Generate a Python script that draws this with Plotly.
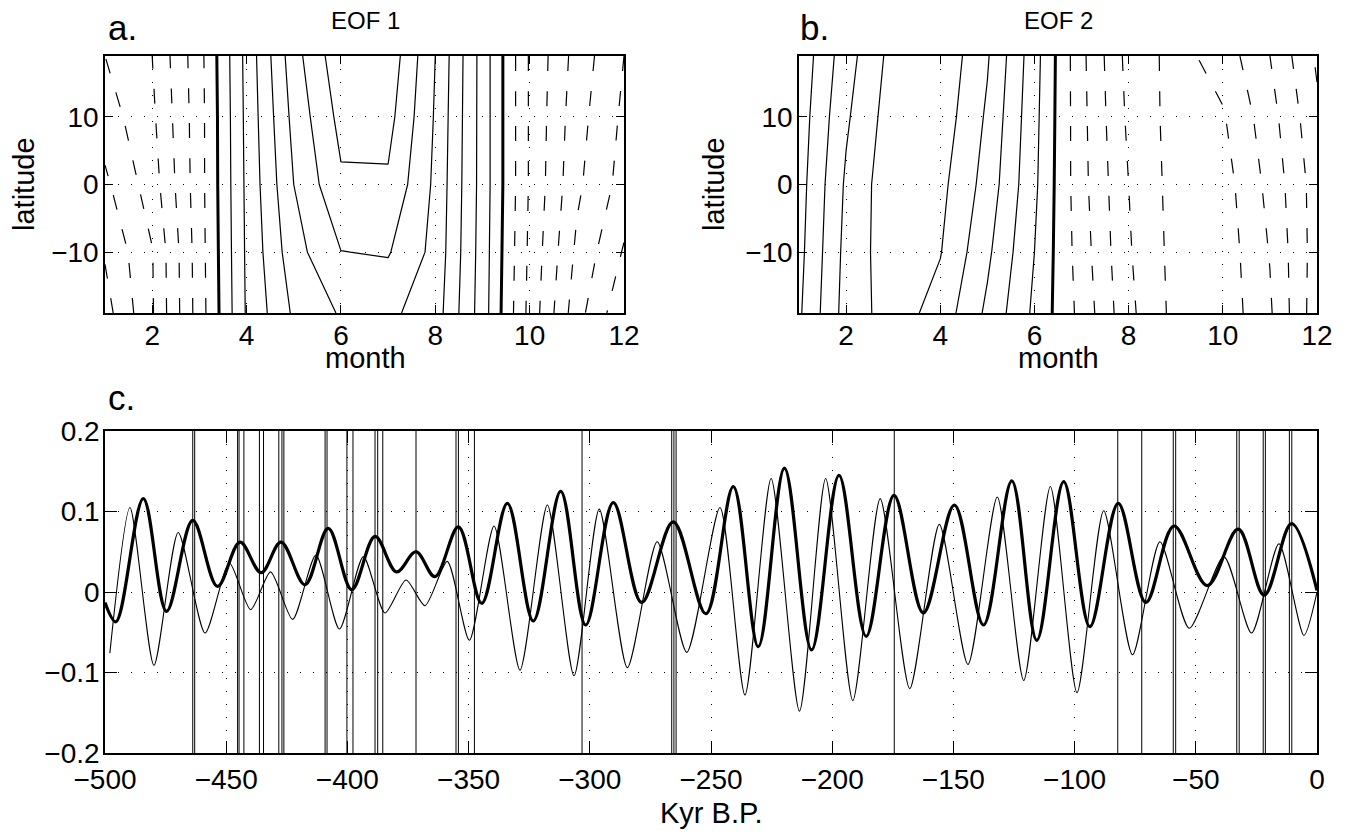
import plotly.graph_objects as go

# ---------------- data ----------------
months = list(range(1, 13))
lats = [-19, -10, 0, 10, 19]

# EOF 1 field (rows = lats, cols = months)
eof1 = [
    [-7.4, -5.1, -1.5, 2.1, 4.15, 5.1, 5.2, 4.5, 1.5, -2.3, -5.6, -7.8],
    [-6.9, -5.05, -1.45, 2.15, 4.6, 5.98, 6.08, 4.7, 1.55, -2.2, -5.2, -7.1],
    [-6.2, -4.5, -1.4, 2.2, 5.0, 6.85, 6.85, 4.8, 1.6, -2.1, -4.8, -6.4],
    [-5.5, -4.2, -1.4, 2.25, 5.3, 7.3, 7.35, 4.9, 1.6, -2.1, -4.6, -6.2],
    [-5.0, -4.0, -1.35, 2.3, 5.6, 7.7, 7.7, 5.0, 1.6, -2.1, -4.4, -6.0],
]

# EOF 2 field
eof2 = [
    [1.85, 4.4, 5.5, 4.6, 2.8, 0.8, -1.32, -3.75, -5.31, -5.66, -4.13, -1.4],
    [1.7, 4.3, 5.65, 5.05, 3.2, 1.0, -1.5, -3.9, -5.35, -5.6, -3.95, -1.5],
    [1.58, 4.15, 5.72, 5.28, 3.6, 1.2, -1.66, -4.0, -5.4, -5.45, -3.7, -1.5],
    [1.45, 3.85, 5.55, 5.6, 3.85, 1.3, -1.7, -4.2, -5.4, -5.1, -3.4, -1.2],
    [1.3, 3.57, 5.36, 5.8, 4.1, 1.4, -1.75, -4.35, -5.35, -4.57, -3.0, -0.85],
]

# Panel c: principal component time series (kyr, value)
pc1_t = [-500, -495.5, -484.2, -474.6, -463.8, -453.6, -444.3, -435.6, -427.4, -417.5,
         -407.9, -398.2, -388.6, -379.7, -371.7, -363.9, -354.2, -344.6, -334.0, -323.3,
         -312.0, -301.7, -290.3, -278.6, -265.6, -252.1, -240.8, -230.5, -219.7, -208.5,
         -197.2, -186.0, -174.5, -162.4, -149.6, -137.6, -125.9, -115.6, -104.5, -93.7,
         -82.0, -70.6, -59.0, -45.3, -32.5, -21.8, -10.5, 0]
pc1_v = [-0.013, -0.037, 0.116, -0.024, 0.089, 0.007, 0.062, 0.024, 0.062, 0.009,
         0.079, 0.003, 0.069, 0.025, 0.050, 0.019, 0.081, -0.014, 0.110, -0.036,
         0.125, -0.041, 0.111, -0.013, 0.087, -0.027, 0.131, -0.068, 0.154, -0.072,
         0.145, -0.055, 0.120, -0.026, 0.108, -0.041, 0.138, -0.060, 0.137, -0.043,
         0.110, -0.013, 0.082, 0.008, 0.078, -0.004, 0.085, 0.002]

pc2_t = [-498, -489.7, -479.8, -469.8, -458.7, -448.7, -439.9, -431.7, -422.6, -413.0,
         -403.3, -393.4, -384.5, -375.8, -368.0, -358.8, -349.7, -339.5, -328.8, -317.5,
         -306.5, -296.1, -284.5, -272.2, -260.0, -246.3, -236.0, -225.2, -213.5, -202.7,
         -191.5, -180.2, -168.0, -155.8, -144.0, -131.9, -121.0, -110.0, -99.0, -88.0,
         -76.1, -64.8, -52.7, -38.4, -27.0, -15.7, -5.4, 0]
pc2_v = [-0.076, 0.105, -0.091, 0.074, -0.051, 0.036, -0.022, 0.025, -0.034, 0.046,
         -0.046, 0.044, -0.026, 0.015, -0.017, 0.038, -0.060, 0.082, -0.097, 0.108,
         -0.104, 0.103, -0.094, 0.0625, -0.075, 0.105, -0.128, 0.141, -0.148, 0.141,
         -0.135, 0.116, -0.120, 0.084, -0.090, 0.118, -0.110, 0.131, -0.125, 0.101,
         -0.078, 0.0625, -0.045, 0.044, -0.051, 0.060, -0.054, 0.0]

# vertical event markers (kyr)
events = [-463.8, -463.0, -445.3, -444.7, -442.7, -436.3, -434.6, -428.3, -427.0, -426.2,
          -409.2, -408.4, -400.2, -397.7, -388.6, -387.5, -385.4, -371.7, -355.2, -354.2,
          -347.6, -303.2, -266.2, -265.3, -264.4, -174.4, -82.2, -72.3, -59.3, -58.3,
          -33.1, -32.1, -22.2, -21.3, -11.4, -10.4]

month_ticks = [2, 4, 6, 8, 10, 12]
lat_ticks = [-10, 0, 10]
kyr_ticks = list(range(-500, 1, 50))
pc_ticks = [-0.2, -0.1, 0, 0.1, 0.2]
pc_ticktext = ["\u22120.2", "\u22120.1", "0", "0.1", "0.2"]

# ---------------- figure ----------------
W, H = 1351, 837
OX, OY = 8, 8   # page body margin: compensate so the plot lands at window pixels
def px(x):
    return (x - OX) / W
def py(y):
    return 1 - (y - OY) / H

FONT = "Liberation Sans, Arial, Helvetica, sans-serif"
BLACK = [[0, "black"], [1, "black"]]

fig = go.Figure()

def add_eof(z, xa, ya):
    common = dict(x=months, y=lats, z=z, xaxis=xa, yaxis=ya, showscale=False,
                  colorscale=BLACK, hoverinfo="skip")
    fig.add_trace(go.Contour(**common,
                             contours=dict(coloring="lines", start=1, end=12, size=1),
                             line=dict(width=1.2, smoothing=0)))
    fig.add_trace(go.Contour(**common,
                             contours=dict(coloring="lines", start=-12, end=-1, size=1),
                             line=dict(width=1.2, smoothing=0, dash="15px,20px")))
    fig.add_trace(go.Contour(**common,
                             contours=dict(coloring="lines", start=0, end=0.5, size=1),
                             line=dict(width=3, smoothing=0)))

add_eof(eof1, "x", "y")
add_eof(eof2, "x2", "y2")

# event lines
ev_x, ev_y = [], []
for e in events:
    ev_x += [e, e, None]
    ev_y += [-0.2, 0.2, None]
fig.add_trace(go.Scatter(x=ev_x, y=ev_y, mode="lines", xaxis="x3", yaxis="y3",
                         line=dict(color="black", width=1), hoverinfo="skip",
                         showlegend=False))
fig.add_trace(go.Scatter(x=pc2_t, y=pc2_v, mode="lines", xaxis="x3", yaxis="y3",
                         line=dict(color="black", width=1.1, shape="spline", smoothing=0.7),
                         showlegend=False))
fig.add_trace(go.Scatter(x=pc1_t, y=pc1_v, mode="lines", xaxis="x3", yaxis="y3",
                         line=dict(color="black", width=3.2, shape="spline", smoothing=1.0),
                         showlegend=False))

TICKF = dict(family=FONT, size=28, color="black")
GRID = dict(showgrid=True, gridcolor="black", gridwidth=1, griddash="1px,12px",
            zeroline=False, showline=True, linecolor="black", linewidth=1.5,
            mirror="ticks", ticks="inside", tickcolor="black", tickwidth=1.2,
            tickfont=TICKF, automargin=False)

top_dom = [py(313), py(56)]
fig.update_layout(
    width=W, height=H, margin=dict(l=0, r=0, t=0, b=0, autoexpand=False),
    paper_bgcolor="white", plot_bgcolor="white", showlegend=False,
    xaxis=dict(domain=[px(105), px(624)], range=[1, 12], tickvals=month_ticks,
               ticklen=8, ticklabelstandoff=-3, anchor="y", **GRID),
    yaxis=dict(domain=top_dom, range=[-19, 19], tickvals=lat_ticks,
               ticklen=8, ticklabelstandoff=-1, anchor="x", **GRID),
    xaxis2=dict(domain=[px(799), px(1317)], range=[1, 12], tickvals=month_ticks,
                ticklen=8, ticklabelstandoff=-3, anchor="y2", **GRID),
    yaxis2=dict(domain=top_dom, range=[-19, 19], tickvals=lat_ticks,
                ticklen=8, ticklabelstandoff=-1, anchor="x2", **GRID),
    xaxis3=dict(domain=[px(105), px(1317)], range=[-500, 0], tickvals=kyr_ticks,
                ticklen=12, ticklabelstandoff=1, anchor="y3", **GRID),
    yaxis3=dict(domain=[py(753), py(431)], range=[-0.2, 0.2], tickvals=pc_ticks,
                ticktext=pc_ticktext,
                ticklen=12, ticklabelstandoff=-2, anchor="x3", **GRID),
)

def label(text, x, y, size, xanchor="center", angle=0):
    fig.add_annotation(text=text, x=px(x), y=py(y), xref="paper", yref="paper",
                       showarrow=False, xanchor=xanchor, yanchor="middle",
                       textangle=angle, font=dict(family=FONT, size=size, color="black"))

label("a.", 106, 28, 35, "left")
label("EOF 1", 365, 21, 24)
label("b.", 798, 28, 35, "left")
label("EOF 2", 1058, 21, 24)
label("c.", 106, 398, 35, "left")
label("latitude", 24, 184, 29, angle=-90)
label("latitude", 714, 184, 29, angle=-90)
label("month", 365, 358, 29)
label("month", 1058, 358, 29)
label("Kyr B.P.", 711, 813, 29)

fig.write_html("out.html")
